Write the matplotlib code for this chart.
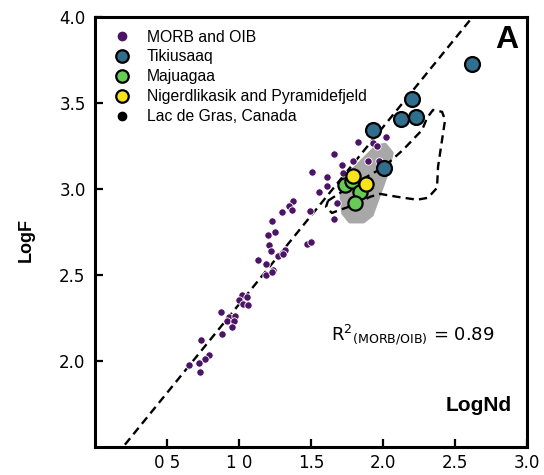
import matplotlib
matplotlib.use("Agg")
import matplotlib.pyplot as plt
from matplotlib.lines import Line2D
from matplotlib.patches import Polygon

# ---------------- data ----------------
morb_x = [1.826, 1.931, 2.019, 1.958, 1.658, 1.711, 1.790, 1.896, 1.970, 1.505,
          1.609, 1.720, 1.611, 1.550, 1.678, 1.488, 1.656,
          1.375, 1.347, 1.368, 1.299, 1.229, 1.248, 1.197, 1.468, 1.498, 1.206,
          1.220, 1.317, 1.271, 1.306, 1.128, 1.185, 1.236, 1.185, 1.227,
          1.017, 1.051, 1.000, 1.028, 1.058, 0.871, 0.926, 0.972, 0.917, 0.963,
          0.949, 0.878, 0.732, 0.790, 0.762, 0.718, 0.649, 0.727]
morb_y = [3.273, 3.267, 3.300, 3.247, 3.200, 3.139, 3.161, 3.160, 3.162, 3.098,
          3.068, 3.090, 3.013, 2.979, 2.919, 2.870, 2.822,
          2.931, 2.900, 2.877, 2.862, 2.811, 2.750, 2.730, 2.680, 2.690, 2.670,
          2.639, 2.641, 2.610, 2.622, 2.583, 2.562, 2.525, 2.500, 2.513,
          2.384, 2.371, 2.355, 2.331, 2.322, 2.281, 2.254, 2.262, 2.229, 2.231,
          2.194, 2.156, 2.123, 2.034, 2.011, 1.985, 1.976, 1.934]

tik_x = [2.614, 2.201, 2.121, 2.225, 1.931, 2.007]
tik_y = [3.725, 3.520, 3.407, 3.419, 3.341, 3.122]

maj_x = [1.734, 1.781, 1.838, 1.803]
maj_y = [3.023, 3.042, 2.978, 2.916]

nig_x = [1.792, 1.878]
nig_y = [3.071, 3.027]

# regression line (MORB/OIB)
reg_slope = 1.03
reg_intercept = 1.30
reg_x = [0.0, 3.0]

# grey field outline
field_x = [2.012, 2.058, 2.024, 1.965, 1.919, 1.861, 1.769, 1.722, 1.711, 1.722,
           1.792, 1.885, 1.954]
field_y = [3.255, 3.207, 3.091, 2.955, 2.848, 2.810, 2.810, 2.858, 2.955, 3.033,
           3.110, 3.187, 3.245]

# dashed loop outline
loop_x = [1.616, 1.734, 1.873, 2.005, 2.137, 2.269, 2.304, 2.345, 2.408, 2.429,
          2.408, 2.380, 2.373, 2.310, 2.234, 2.095, 1.977, 1.908, 1.803, 1.699,
          1.643, 1.602, 1.616]
loop_y = [2.930, 2.994, 3.063, 3.127, 3.226, 3.341, 3.412, 3.458, 3.447, 3.400,
          3.284, 3.127, 3.005, 2.947, 2.936, 2.953, 2.970, 2.953, 2.907, 2.877,
          2.859, 2.894, 2.930]

xticks = [0.5, 1.0, 1.5, 2.0, 2.5, 3.0]
xticklabels = ["0 5", "1 0", "1.5", "2.0", "2.5", "3.0"]
yticks = [2.0, 2.5, 3.0, 3.5, 4.0]
yticklabels = ["2.0", "2.5", "3.0", "3.5", "4.0"]

c_morb = "#4b1464"
c_tik = "#2f6e8c"
c_maj = "#66cc55"
c_nig = "#f7e31c"

# ---------------- figure ----------------
fig = plt.figure(figsize=(5.44, 4.75), dpi=100)
ax = fig.add_axes([0.1752, 0.0596, 0.7941, 0.9052])
ax.set_xlim(0, 3.0)
ax.set_ylim(1.5, 4.0)

ax.add_patch(Polygon(list(zip(field_x, field_y)), closed=True, facecolor="#a8a8a8",
                     edgecolor="#a8a8a8", lw=3, joinstyle="round", zorder=1))

dash = (3.5, 2.2)
ax.plot(reg_x, [reg_intercept + reg_slope * v for v in reg_x], color="black",
        lw=1.7, dashes=dash, zorder=2)
ax.plot(loop_x, loop_y, color="black", lw=1.7, dashes=dash, zorder=2,
        solid_joinstyle="round", dash_joinstyle="round")

ax.scatter(morb_x, morb_y, s=28, color=c_morb, edgecolors="white", linewidths=0.6, zorder=3)
ax.scatter(tik_x, tik_y, s=115, color=c_tik, edgecolors="black", linewidths=1.6, zorder=4)
ax.scatter(maj_x, maj_y, s=105, color=c_maj, edgecolors="black", linewidths=1.6, zorder=4)
ax.scatter(nig_x, nig_y, s=105, color=c_nig, edgecolors="black", linewidths=1.6, zorder=5)

for sp in ax.spines.values():
    sp.set_linewidth(2.2)

ax.set_xticks(xticks)
ax.set_xticklabels(xticklabels)
ax.set_yticks(yticks)
ax.set_yticklabels(yticklabels)
ax.tick_params(direction="in", length=6, width=1.6, labelsize=12, pad=7,
               top=False, right=False)
ax.tick_params(axis="x", pad=5)

ax.set_ylabel("LogF", fontsize=13, fontweight="bold", family="Liberation Sans")
ax.yaxis.set_label_coords(-0.14, 0.48)
ax.text(0.965, 0.095, "LogNd", transform=ax.transAxes, ha="right", va="center",
        fontsize=15, fontweight="bold", family="Liberation Sans")
ax.text(0.98, 0.945, "A", transform=ax.transAxes, ha="right", va="center",
        fontsize=23, fontweight="bold", family="Liberation Sans")
ax.text(0.545, 0.26, r"R$^{2}$$_{\mathregular{(MORB/OIB)}}$ = 0.89", transform=ax.transAxes,
        ha="left", va="center", fontsize=13)

handles = [
    Line2D([], [], ls="none", marker="o", ms=6, mfc=c_morb, mec=c_morb),
    Line2D([], [], ls="none", marker="o", ms=9, mfc=c_tik, mec="black", mew=1.6),
    Line2D([], [], ls="none", marker="o", ms=9, mfc=c_maj, mec="black", mew=1.6),
    Line2D([], [], ls="none", marker="o", ms=9, mfc=c_nig, mec="black", mew=1.6),
    Line2D([], [], ls="none", marker="o", ms=6, mfc="black", mec="black"),
]
labels = ["MORB and OIB", "Tikiusaaq", "Majuagaa", "Nigerdlikasik and Pyramidefjeld",
          "Lac de Gras, Canada"]
ax.legend(handles, labels, loc="upper left", bbox_to_anchor=(0.044, 0.97), frameon=False,
          borderpad=0, borderaxespad=0, handlelength=1.0, handletextpad=1.06,
          labelspacing=0.31, prop={"family": "Liberation Sans", "size": 11.3})

fig.savefig("out.png", dpi=100)
